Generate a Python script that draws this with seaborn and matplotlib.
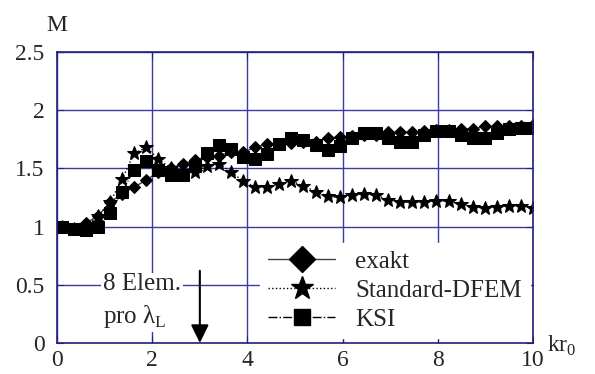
import matplotlib
matplotlib.use("Agg")
import matplotlib.pyplot as plt
import numpy as np
import seaborn as sns
from matplotlib.lines import Line2D

sns.set_style("ticks")
plt.rcParams["font.family"] = "serif"
plt.rcParams["font.serif"] = ["Liberation Serif", "DejaVu Serif"]
plt.rcParams["mathtext.fontset"] = "custom"
plt.rcParams["mathtext.rm"] = "Liberation Serif"

# sample points along kr0 (40 evenly spaced points)
kr0 = np.linspace(0.1, 10.0, 40)

exakt = [1.00, 0.98, 1.03, 1.09, 1.21, 1.28, 1.34, 1.40, 1.47, 1.50,
         1.54, 1.57, 1.60, 1.61, 1.64, 1.64, 1.68, 1.71, 1.71, 1.72,
         1.73, 1.73, 1.76, 1.77, 1.78, 1.79, 1.79, 1.81, 1.81, 1.81,
         1.82, 1.83, 1.83, 1.84, 1.84, 1.86, 1.86, 1.86, 1.86, 1.87]

standard_dfem = [1.00, 0.98, 1.00, 1.09, 1.21, 1.41, 1.63, 1.68, 1.58, 1.50,
                 1.48, 1.47, 1.52, 1.54, 1.47, 1.39, 1.34, 1.34, 1.37, 1.39,
                 1.35, 1.30, 1.26, 1.25, 1.27, 1.28, 1.27, 1.23, 1.21, 1.21,
                 1.21, 1.22, 1.22, 1.19, 1.17, 1.16, 1.17, 1.18, 1.18, 1.16]

ksi = [1.00, 0.98, 0.97, 1.00, 1.12, 1.30, 1.49, 1.56, 1.49, 1.44,
       1.44, 1.52, 1.63, 1.70, 1.67, 1.60, 1.58, 1.62, 1.71, 1.76,
       1.74, 1.70, 1.66, 1.69, 1.76, 1.80, 1.80, 1.76, 1.73, 1.73,
       1.79, 1.82, 1.82, 1.79, 1.76, 1.76, 1.80, 1.84, 1.85, 1.85]

labels = ["exakt", "Standard-DFEM", "KSI"]
x_ticks = [0, 2, 4, 6, 8, 10]
y_ticks = [0, 0.5, 1, 1.5, 2, 2.5]
y_ticklabels = ["0", "0.5", "1", "1.5", "2", "2.5"]

navy = "#22227a"
grid_col = "#3a3aa0"

fig, ax = plt.subplots(figsize=(5.95, 3.74), dpi=100)
fig.subplots_adjust(left=0.0958, right=0.896, bottom=0.083, top=0.861)

# exakt: solid line, diamonds
sns.lineplot(x=kr0, y=exakt, ax=ax, color="#404040", lw=1.0, marker="D",
             markersize=6.5, markerfacecolor="black", markeredgecolor="black",
             linestyle="-", estimator=None, sort=False)
# Standard-DFEM: dotted line, stars
sns.lineplot(x=kr0, y=standard_dfem, ax=ax, color="black", lw=1.0, marker="*",
             markersize=10, markerfacecolor="black", markeredgecolor="black",
             linestyle=":", estimator=None, sort=False)
# KSI: dash-dot line, squares
sns.lineplot(x=kr0, y=ksi, ax=ax, color="black", lw=0.8, marker="s",
             markersize=8.5, markerfacecolor="black", markeredgecolor="black",
             linestyle="-.", estimator=None, sort=False)

ax.set_xlim(0, 10)
ax.set_ylim(0, 2.5)
ax.set_xticks(x_ticks)
ax.set_xticklabels([str(t) for t in x_ticks])
ax.set_yticks(y_ticks)
ax.set_yticklabels(y_ticklabels)
ax.set_xlabel("")
ax.set_ylabel("")

ax.grid(True, color=grid_col, lw=1.0)
ax.set_axisbelow(True)
for side in ["left", "bottom", "top", "right"]:
    ax.spines[side].set_visible(True)
    ax.spines[side].set_color(navy)
    ax.spines[side].set_linewidth(1.2)
ax.tick_params(direction="in", length=5, color=navy, top=True, right=True,
               labelsize=17)
ax.tick_params(axis="y", pad=9)
ax.tick_params(axis="x", pad=5)

# axis titles
ax.text(0.0, 1.055, "M", transform=ax.transAxes, ha="center", va="bottom",
        fontsize=17)
ax.text(1.03, -0.01, "kr$_0$", transform=ax.transAxes, ha="left",
        va="center", fontsize=17)

# annotation
ax.text(0.97, 0.36, "8 Elem.\npro \u03bb$_\\mathregular{L}$", ha="left",
        va="center", fontsize=18, linespacing=1.4, zorder=4,
        bbox=dict(facecolor="white", edgecolor="none", pad=1.5))
ax.annotate("", xy=(3, 0), xytext=(3, 0.62),
            arrowprops=dict(arrowstyle="-|>,head_length=0.55,head_width=0.27",
                            color="black", lw=1.5, shrinkA=0, shrinkB=0,
                            mutation_scale=20), zorder=4)

handles = [
    Line2D([], [], color="#404040", lw=1.0, ls="-", marker="D", ms=13,
           mfc="black", mec="black"),
    Line2D([], [], color="black", lw=1.0, ls=":", marker="*", ms=17,
           mfc="black", mec="black"),
    Line2D([], [], color="black", lw=1.0, ls="-.", marker="s", ms=12,
           mfc="black", mec="black"),
]
ax.legend(handles, labels, loc="center", bbox_to_anchor=(0.71, 0.18),
          frameon=True, facecolor="white", edgecolor="white", framealpha=1,
          fancybox=False, handlelength=2.7, handletextpad=0.8,
          labelspacing=0.25, borderpad=0.3, fontsize=18)

fig.savefig("out.png", dpi=100)
